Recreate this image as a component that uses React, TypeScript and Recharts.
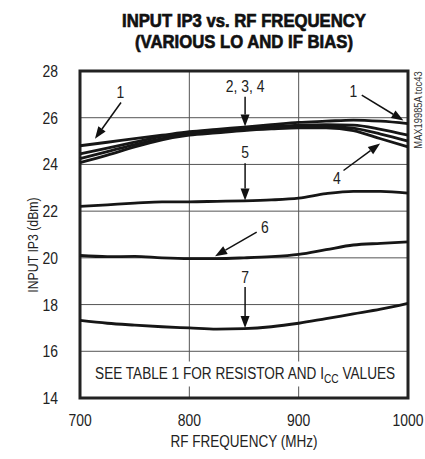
import React from "react";
import {
  CartesianGrid,
  Line,
  LineChart,
  ReferenceArea,
  ReferenceDot,
  ReferenceLine,
  XAxis,
  YAxis,
} from "recharts";

const FONT = "'Liberation Sans', Arial, sans-serif";
const NARROW = 0.82;

// RF frequency (MHz)
const freqs = [700, 725, 750, 775, 800, 825, 850, 875, 900, 925, 950, 975, 1000];

// input IP3 (dBm) for each bias setting
const curve1 = [24.8, 24.95, 25.1, 25.25, 25.4, 25.5, 25.6, 25.7, 25.8, 25.85, 25.9, 25.85, 25.75];
const curve2 = [24.45, 24.7, 24.95, 25.2, 25.35, 25.45, 25.55, 25.62, 25.68, 25.7, 25.68, 25.5, 25.25];
const curve3 = [24.25, 24.55, 24.85, 25.1, 25.3, 25.4, 25.5, 25.58, 25.62, 25.63, 25.55, 25.3, 25.0];
const curve4 = [24.08, 24.4, 24.75, 25.05, 25.25, 25.35, 25.45, 25.52, 25.57, 25.57, 25.45, 25.1, 24.75];
const curve5 = [22.2, 22.27, 22.34, 22.4, 22.4, 22.42, 22.44, 22.48, 22.56, 22.75, 22.85, 22.85, 22.77];
const curve6 = [20.1, 20.05, 20.06, 20.0, 19.97, 19.97, 20.0, 20.05, 20.15, 20.35, 20.55, 20.62, 20.68];
const curve7 = [17.32, 17.2, 17.12, 17.05, 17.0, 16.95, 16.97, 17.05, 17.2, 17.4, 17.6, 17.8, 18.05];

const seriesKeys = ["c1", "c2", "c3", "c4", "c5", "c6", "c7"];
const seriesValues = [curve1, curve2, curve3, curve4, curve5, curve6, curve7];

const xTicks = [700, 800, 900, 1000];
const yTicks = [14, 16, 18, 20, 22, 24, 26, 28];

const titleLines = ["INPUT IP3 vs. RF FREQUENCY", "(VARIOUS LO AND IF BIAS)"];

// curve callouts (data coordinates)
const calloutText = ["1", "2, 3, 4", "1", "4", "5", "6", "7"];
const calloutX = [737, 851, 950, 935, 851, 869, 851];
const calloutY = [27.12, 27.35, 27.15, 23.42, 24.55, 21.3, 19.2];
const arrowFrom = [
  [737.5, 26.65],
  [851, 26.9],
  [957.7, 26.97],
  [941, 23.74],
  [851, 24.05],
  [861.6, 21.1],
  [851, 18.75],
];
const arrowTo = [
  [713.7, 25.1],
  [851, 25.62],
  [995.8, 25.88],
  [974.5, 24.9],
  [851, 22.46],
  [823.5, 20.07],
  [851, 17.0],
];

const data = freqs.map((f, i) => {
  const row: any = { f };
  seriesKeys.forEach((k, j) => {
    row[k] = seriesValues[j][i];
  });
  return row;
});

// condensed look: regular sans squeezed horizontally
const NarrowText = ({ x, y, anchor = "middle", size = 17, rotate = 0, dy = "0.35em", children }: any) => (
  <g transform={`translate(${x},${y}) rotate(${rotate}) scale(${NARROW},1)`}>
    <text x={0} y={0} dy={dy} textAnchor={anchor} fill="#222" fontSize={size} fontFamily={FONT}>
      {children}
    </text>
  </g>
);

const Arrow = (props: any) => {
  const { x1, y1, x2, y2 } = props;
  const dx = x2 - x1;
  const dy = y2 - y1;
  const len = Math.sqrt(dx * dx + dy * dy) || 1;
  const ux = dx / len;
  const uy = dy / len;
  const head = 12;
  const half = 4.5;
  const bx = x2 - ux * head;
  const by = y2 - uy * head;
  return (
    <g>
      <line x1={x1} y1={y1} x2={bx} y2={by} stroke="#111" strokeWidth={1.5} />
      <polygon
        points={`${x2},${y2} ${bx - uy * half},${by + ux * half} ${bx + uy * half},${by - ux * half}`}
        fill="#111"
      />
    </g>
  );
};

const App = () => {
  return (
    <div style={{ position: "absolute", left: 0, top: 0, width: 425, height: 459, background: "#fff" }}>
      <LineChart
        width={425}
        height={459}
        data={data}
        margin={{ top: 71, right: 17, bottom: 0, left: 0 }}
        style={{ position: "absolute", left: 0, top: 0 }}
      >
        <CartesianGrid stroke="#555" strokeWidth={1} />
        <XAxis
          dataKey="f"
          type="number"
          domain={[700, 1000]}
          ticks={xTicks}
          height={61}
          axisLine={false}
          tickLine={false}
          tickSize={0}
          tickMargin={16}
          tick={(p: any) => (
            <NarrowText x={p.x} y={p.y} dy="0.71em" size={17}>
              {p.payload.value}
            </NarrowText>
          )}
          label={(p: any) => (
            <NarrowText x={p.viewBox.x + p.viewBox.width / 2} y={441} size={16.5}>
              RF FREQUENCY (MHz)
            </NarrowText>
          )}
        />
        <YAxis
          type="number"
          domain={[14, 28]}
          ticks={yTicks}
          width={80}
          axisLine={false}
          tickLine={false}
          tickSize={0}
          tickMargin={22}
          tick={(p: any) => (
            <NarrowText x={p.x} y={p.y} anchor="end" size={17}>
              {p.payload.value}
            </NarrowText>
          )}
          label={() => (
            <NarrowText x={33} y={245} rotate={-90} size={15}>
              INPUT IP3 (dBm)
            </NarrowText>
          )}
        />
        <ReferenceDot
          x={851}
          y={15.05}
          r={0}
          shape={(p: any) => (
            <g>
              <rect x={p.cx - 154} y={p.cy - 12} width={308} height={25} fill="#fff" />
              <g transform={`translate(${p.cx},${p.cy}) scale(${NARROW},1)`}>
                <text x={0} y={0} dy="0.35em" textAnchor="middle" fill="#222" fontSize={16.6} fontFamily={FONT}>
                  SEE TABLE 1 FOR RESISTOR AND I
                  <tspan fontSize={12.5} dy={4}>CC</tspan>
                  <tspan dy={-4}> VALUES</tspan>
                </text>
              </g>
            </g>
          )}
        />
        {seriesKeys.map((k) => (
          <Line
            key={k}
            dataKey={k}
            type="monotone"
            stroke="#161616"
            strokeWidth={2.8}
            dot={false}
            isAnimationActive={false}
          />
        ))}
        {arrowFrom.map((a, i) => (
          <ReferenceLine
            key={"arrow" + i}
            segment={[
              { x: a[0], y: a[1] },
              { x: arrowTo[i][0], y: arrowTo[i][1] },
            ]}
            shape={(p: any) => <Arrow {...p} />}
          />
        ))}
        {calloutText.map((t, i) => (
          <ReferenceDot
            key={"lab" + i}
            x={calloutX[i]}
            y={calloutY[i]}
            r={0}
            shape={(p: any) => (
              <NarrowText x={p.cx} y={p.cy} size={17}>
                {t}
              </NarrowText>
            )}
          />
        ))}
        <ReferenceArea
          x1={700}
          x2={1000}
          y1={14}
          y2={28}
          fill="none"
          fillOpacity={0}
          stroke="#222"
          strokeWidth={3}
        />
      </LineChart>
      <svg width={425} height={459} style={{ position: "absolute", left: 0, top: 0, pointerEvents: "none" }}>
        {titleLines.map((t, i) => (
          <g key={t} transform={`translate(244,${26.5 + i * 21.5}) scale(0.87,1)`}>
            <text
              x={0}
              y={0}
              textAnchor="middle"
              fill="#111"
              stroke="#111"
              strokeWidth={0.7}
              fontSize={19.2}
              fontWeight={700}
              fontFamily={FONT}
            >
              {t}
            </text>
          </g>
        ))}
        <g transform="translate(418,110) rotate(-90) scale(0.85,1)">
          <text x={0} y={0} dy="0.35em" textAnchor="middle" fill="#333" fontSize={11} fontFamily={FONT}>
            MAX19985A toc43
          </text>
        </g>
      </svg>
    </div>
  );
};

export default App;
